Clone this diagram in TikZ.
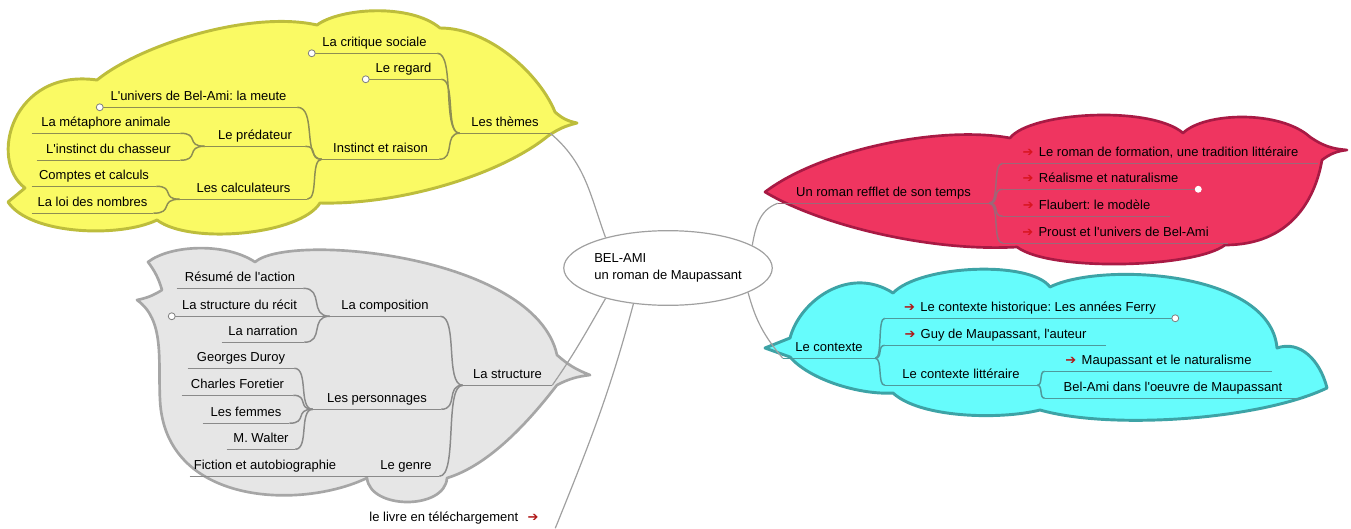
\documentclass[tikz,border=0pt]{standalone}
\usepackage{fontspec}
\setmainfont{Liberation Sans}[Ligatures=TeXOff]
\newfontfamily\arrowfont{DejaVu Sans}
\usetikzlibrary{shapes.geometric,calc}
\definecolor{yfill}{HTML}{FAFA64}
\definecolor{ydraw}{HTML}{BDBD3C}
\definecolor{yline}{HTML}{8E8E52}
\definecolor{rfill}{HTML}{EF3560}
\definecolor{rdraw}{HTML}{A81A44}
\definecolor{rline}{HTML}{9C6878}
\definecolor{cfill}{HTML}{66FCFC}
\definecolor{cdraw}{HTML}{3DA3A6}
\definecolor{cline}{HTML}{4E9A9C}
\definecolor{gfill}{HTML}{E6E6E6}
\definecolor{gdraw}{HTML}{A6A6A6}
\definecolor{gline}{HTML}{8A8A8A}
\definecolor{connc}{HTML}{A0A0A0}
\definecolor{arrred}{HTML}{D8141E}
\definecolor{arrdark}{HTML}{B01818}
\newcommand\rarr[1]{{\arrowfont\color{#1}➔}\hspace{4pt}}
\frenchspacing
\begin{document}
\begin{tikzpicture}[x=0.75pt,y=-0.75pt,
  topic/.style={inner sep=0pt, minimum height=15pt, text height=7pt, text depth=2pt,
    font=\fontsize{9.75}{11.7}\selectfont},
  uw/.style={minimum width=#1*0.75pt},
  cloudY/.style={fill=yfill, draw=ydraw, line width=2.2pt, line join=round},
  cloudR/.style={fill=rfill, draw=rdraw, line width=2pt, line join=round},
  cloudC/.style={fill=cfill, draw=cdraw, line width=2.2pt, line join=round},
  cloudG/.style={fill=gfill, draw=gdraw, line width=2pt, line join=round},
  lnY/.style={draw=yline, line width=1.1pt},
  lnR/.style={draw=rline, line width=1.1pt},
  lnC/.style={draw=cline, line width=1.1pt},
  lnG/.style={draw=gline, line width=1.1pt},
  conn/.style={draw=connc, line width=0.9pt},
  dotmark/.style={fill=white, draw=gray, line width=0.6pt},
  br/.style={to path={let \p1=(\tikztostart),\p2=(\tikztotarget),\n1={\x2-\x1} in
     .. controls ({\x1+0.8*\n1},\y1) and ({\x2-0.8*\n1},\y2) .. (\tikztotarget)}}
]
\useasboundingbox (0,0) rectangle (1351,528);

% ---------- clouds ----------
\path[cloudY] (8,202) -- (25,188) .. controls (-12,160) and (12,68) .. (97,80)
  .. controls (140,45) and (250,10) .. (317,25)
  .. controls (340,8) and (410,3) .. (440,28)
  .. controls (490,28) and (540,75) .. (555,112)
  to[bend right=15] (577,123) to[bend right=10] (548,136)
  .. controls (500,175) and (400,205) .. (320,203)
  .. controls (300,235) and (190,245) .. (157,220)
  .. controls (120,238) and (30,235) .. (8,202) -- cycle;

\path[cloudR] (765,192) .. controls (820,150) and (940,125) .. (1010,138)
  .. controls (1030,112) and (1150,105) .. (1183,133)
  .. controls (1205,112) and (1280,110) .. (1310,137)
  to[bend right=15] (1347,150) to[bend right=15] (1322,160)
  .. controls (1315,200) and (1290,245) .. (1225,245)
  .. controls (1195,268) and (1050,272) .. (1017,247)
  .. controls (930,252) and (820,225) .. (765,192) -- cycle;

\path[cloudC] (765,348) -- (790,338) .. controls (800,300) and (850,265) .. (893,293)
  .. controls (920,265) and (1030,260) .. (1050,287)
  .. controls (1100,262) and (1270,270) .. (1277,348)
  .. controls (1300,340) and (1320,360) .. (1327,388)
  .. controls (1260,420) and (1110,430) .. (1040,410)
  .. controls (1000,420) and (920,418) .. (893,393)
  .. controls (860,395) and (810,380) .. (790,357) -- (765,348) -- cycle;

\path[cloudG] (137,300) to[bend right=10] (162,290) to[bend right=10] (148,262)
  .. controls (170,245) and (225,242) .. (255,262)
  .. controls (290,232) and (535,255) .. (557,355)
  to[bend right=10] (590,375) to[bend right=10] (557,385)
  .. controls (530,420) and (490,465) .. (447,478)
  .. controls (445,510) and (370,510) .. (367,478)
  .. controls (300,510) and (165,505) .. (160,400)
  .. controls (158,360) and (165,320) .. (137,300) -- cycle;

% ---------- central topic ----------
\node[ellipse, draw=connc, line width=0.9pt, fill=white, minimum width=136pt, minimum height=56pt,
  inner sep=0pt, align=left, font=\fontsize{9.75}{12.75}\selectfont] (c) at (668,268)
  {BEL-AMI\\un roman de Maupassant};

% ---------- yellow topics ----------
\node[topic, uw=125] (critique) at (374.5,43) {La critique sociale};
\node[topic, uw=75] (regard) at (403.5,69) {Le regard};
\node[topic, uw=90] (themes) at (505,123) {Les thèmes};
\node[topic, uw=117] (instinct) at (380.5,149) {Instinct et raison};
\node[topic, uw=197] (univers) at (198.5,97) {L'univers de Bel-Ami: la meute};
\node[topic, uw=100] (predateur) at (255,136) {Le prédateur};
\node[topic, uw=148] (metaphore) at (106,123) {La métaphore animale};
\node[topic, uw=143] (chasseur) at (108.5,150) {L'instinct du chasseur};
\node[topic, uw=127] (calculateurs) at (243.5,189) {Les calculateurs};
\node[topic, uw=124] (comptes) at (94,176) {Comptes et calculs};
\node[topic, uw=121] (loi) at (92.5,203) {La loi des nombres};

% ---------- grey topics ----------
\node[topic, uw=126] (resume) at (240,278) {Résumé de l'action};
\node[topic, uw=135] (recit) at (239.5,306) {La structure du récit};
\node[topic, uw=110] (composition) at (385,306) {La composition};
\node[topic, uw=82] (narration) at (263,332) {La narration};
\node[topic, uw=106] (georges) at (241,358) {Georges Duroy};
\node[topic, uw=111] (charles) at (237.5,385) {Charles Foretier};
\node[topic, uw=128] (personnages) at (377,399) {Les personnages};
\node[topic, uw=86] (femmes) at (246,413) {Les femmes};
\node[topic, uw=68] (walter) at (261,439) {M. Walter};
\node[topic, uw=150] (fiction) at (265,466) {Fiction et autobiographie};
\node[topic, uw=66] (genre) at (406,466) {Le genre};
\node[topic, uw=89] (structure) at (507.5,375) {La structure};

% ---------- red topics ----------
\node[topic, uw=211] (roman) at (883.5,193) {Un roman refflet de son temps};
\node[topic, uw=315] (formation) at (1160.5,153) {\rarr{arrred}Le roman de formation, une tradition littéraire};
\node[topic, uw=195] (realisme) at (1100.5,179) {\rarr{arrred}Réalisme et naturalisme};
\node[topic, uw=167] (flaubert) at (1086.5,206) {\rarr{arrred}Flaubert: le modèle};
\node[topic, uw=225] (proust) at (1115.5,233) {\rarr{arrred}Proust et l'univers de Bel-Ami};

% ---------- cyan topics ----------
\node[topic, uw=92] (contexte) at (829,348) {Le contexte};
\node[topic, uw=290] (historique) at (1030,308) {\rarr{arrdark}Le contexte historique: Les années Ferry};
\node[topic, uw=221] (guy) at (995.5,335) {\rarr{arrdark}Guy de Maupassant, l'auteur};
\node[topic, uw=152] (litteraire) at (961,375) {Le contexte littéraire};
\node[topic, uw=227] (maupnat) at (1158.5,361) {\rarr{arrdark}Maupassant et le naturalisme};
\node[topic, uw=256] (belami) at (1173,388) {Bel-Ami dans l'oeuvre de Maupassant};

% ---------- free topic ----------
\node[topic, uw=202] (livre) at (454,518) {le livre en téléchargement\hspace{7pt}{\arrowfont\color{arrdark}➔}};

% ---------- underlines ----------
\foreach \n in {critique,regard,themes,instinct,univers,predateur,metaphore,chasseur,calculateurs,comptes,loi}
  \draw[lnY] (\n.south west) -- (\n.south east);
\foreach \n in {resume,recit,composition,narration,georges,charles,personnages,femmes,walter,fiction,genre,structure}
  \draw[lnG] (\n.south west) -- (\n.south east);
\foreach \n in {roman,formation,realisme,flaubert,proust}
  \draw[lnR] (\n.south west) -- (\n.south east);
\foreach \n in {contexte,historique,guy,litteraire,maupnat,belami}
  \draw[lnC] (\n.south west) -- (\n.south east);

% ---------- branch connectors ----------
\foreach \a/\b in {critique/themes,regard/themes,instinct/themes,univers/instinct,predateur/instinct,
  calculateurs/instinct,metaphore/predateur,chasseur/predateur,comptes/calculateurs,loi/calculateurs}
  \draw[lnY] (\a.south east) to[br] (\b.south west);
\foreach \a/\b in {resume/composition,recit/composition,narration/composition,composition/structure,
  georges/personnages,charles/personnages,femmes/personnages,walter/personnages,personnages/structure,
  fiction/genre,genre/structure}
  \draw[lnG] (\a.south east) to[br] (\b.south west);
\foreach \b in {formation,realisme,flaubert,proust}
  \draw[lnR] (roman.south east) to[br] (\b.south west);
\foreach \a/\b in {contexte/historique,contexte/guy,contexte/litteraire,litteraire/maupnat,litteraire/belami}
  \draw[lnC] (\a.south east) to[br] (\b.south west);

% ---------- main connectors ----------
\draw[conn] (themes.south east) to[out=-40,in=110] (c.154);
\draw[conn] (roman.south west) to[out=200,in=80] (c.15);
\draw[conn] (contexte.south west) to[out=130,in=-75] (c.-17);
\draw[conn] (structure.south east) to[out=55,in=-120] (c.206);
\draw[conn] (livre.south east) to[out=68,in=-105] (c.226);

% ---------- markers ----------
\draw[dotmark] (critique.south west) circle (2.6pt);
\draw[dotmark] (regard.south west) circle (2.6pt);
\draw[dotmark] (univers.south west) circle (2.6pt);
\draw[dotmark] (recit.south west) circle (2.6pt);
\fill[white] (realisme.south east) circle (2.6pt);
\draw[dotmark] (historique.south east) circle (2.6pt);
\end{tikzpicture}
\end{document}
